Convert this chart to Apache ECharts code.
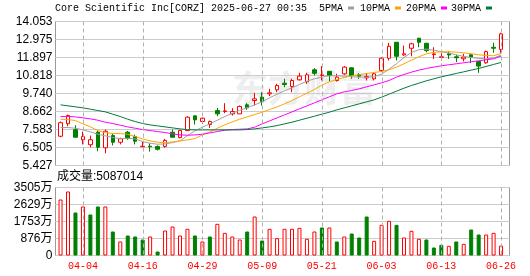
<!DOCTYPE html>
<html>
<head>
<meta charset="utf-8">
<script src="https://cdn.jsdelivr.net/npm/echarts@6/dist/echarts.min.js"></script>
<style>
html,body{margin:0;padding:0;background:#fff;}
#chart{width:530px;height:276px;}
</style>
</head>
<body>
<div id="chart"></div>
<script>
const titleText = 'Core Scientific Inc[CORZ] 2025-06-27 00:35';
const volumeLabel = '成交量';
const categories = ['04-01','04-02','04-03','04-04','04-07','04-08','04-09','04-10','04-11','04-14','04-15','04-16','04-17','04-21','04-22','04-23','04-24','04-25','04-28','04-29','04-30','05-01','05-02','05-05','05-06','05-07','05-08','05-09','05-12','05-13','05-14','05-15','05-16','05-19','05-20','05-21','05-22','05-23','05-27','05-28','05-29','05-30','06-02','06-03','06-04','06-05','06-06','06-09','06-10','06-11','06-12','06-13','06-16','06-17','06-18','06-20','06-23','06-24','06-25','06-26'];
const opens  = [7.18,7.93,7.57,6.97,6.67,7.42,6.49,7.22,6.82,7.42,7.16,6.55,6.58,6.57,6.57,7.42,7.10,7.52,8.40,8.06,7.88,8.72,8.66,8.52,8.52,9.06,9.32,9.52,9.72,9.96,10.36,10.16,10.56,10.44,11.16,10.82,11.07,10.52,10.92,11.28,10.86,10.68,10.62,11.12,11.85,12.81,12.05,12.45,13.05,12.75,12.07,11.90,12.12,11.94,11.82,12.06,11.66,11.58,12.51,12.38];
const closes = [7.99,8.42,7.12,7.16,6.97,6.52,7.48,6.82,7.03,7.06,6.88,6.58,6.55,6.40,6.93,7.12,7.52,8.32,8.16,8.26,8.06,8.52,8.70,8.66,8.96,8.88,9.42,9.26,9.78,10.22,10.28,10.52,10.78,10.86,10.95,10.86,10.82,10.72,11.32,10.82,10.78,10.76,10.92,11.85,12.57,11.97,12.12,12.72,12.81,12.31,12.11,11.94,12.05,11.88,11.92,11.92,11.38,12.25,12.45,13.31];
const lows   = [7.12,7.78,7.12,6.69,6.51,6.28,6.16,6.63,6.69,6.97,6.69,6.54,6.26,6.33,6.49,7.12,7.05,7.49,7.88,7.92,7.68,8.38,8.56,8.42,8.52,8.76,9.02,9.02,9.58,9.82,10.12,9.82,10.52,10.32,10.82,10.52,10.48,10.46,10.86,10.62,10.62,10.52,10.52,11.02,11.72,11.72,12.00,11.97,12.51,12.21,11.81,11.72,11.81,11.62,11.66,11.56,10.98,11.52,12.18,12.18];
const highs  = [8.06,8.48,7.84,7.46,7.22,7.52,7.58,7.33,7.09,7.50,7.27,6.85,6.76,6.63,7.03,7.58,7.56,8.38,8.42,8.30,8.12,8.88,9.16,8.86,9.02,9.16,9.78,9.82,10.02,10.32,10.62,10.62,10.98,10.98,11.26,11.38,11.08,10.92,11.38,11.30,10.96,10.96,11.02,11.91,12.78,12.83,12.61,12.78,13.07,12.77,12.51,12.18,12.26,12.06,12.12,12.12,11.68,12.31,12.78,13.38];
const ma5  = [7.70,7.70,7.66,7.56,7.44,7.30,7.20,7.10,7.04,7.06,7.02,6.86,6.76,6.70,6.72,6.80,6.90,7.22,7.50,7.72,7.92,8.14,8.36,8.56,8.72,8.90,9.06,9.24,9.48,9.70,9.90,10.08,10.28,10.48,10.62,10.72,10.80,10.80,10.78,10.74,10.72,10.72,10.74,10.90,11.20,11.52,11.90,12.20,12.36,12.40,12.34,12.24,12.16,12.06,11.96,11.90,11.84,11.82,11.86,12.04];
const ma10 = [8.20,8.18,8.12,7.92,7.74,7.52,7.40,7.34,7.34,7.30,7.16,7.02,6.90,6.82,6.80,6.84,6.90,6.96,7.04,7.26,7.44,7.66,7.86,8.04,8.20,8.34,8.48,8.62,8.78,8.94,9.12,9.32,9.54,9.76,9.98,10.24,10.44,10.58,10.70,10.80,10.86,10.94,11.00,11.06,11.16,11.32,11.52,11.74,11.94,12.12,12.20,12.24,12.24,12.22,12.18,12.12,12.06,12.02,12.00,12.14];
const ma20 = [8.36,8.36,8.34,8.28,8.22,8.14,8.02,7.94,7.84,7.74,7.66,7.58,7.52,7.46,7.40,7.32,7.26,7.24,7.26,7.30,7.38,7.46,7.54,7.58,7.60,7.62,7.72,7.92,8.10,8.28,8.46,8.64,8.82,9.00,9.18,9.36,9.54,9.72,9.84,9.92,10.02,10.14,10.26,10.38,10.52,10.72,10.88,11.02,11.14,11.24,11.32,11.40,11.46,11.52,11.58,11.64,11.70,11.76,11.82,11.98];
const ma30 = [9.06,9.00,8.94,8.88,8.80,8.72,8.64,8.50,8.36,8.20,8.06,7.94,7.86,7.80,7.74,7.68,7.62,7.58,7.56,7.56,7.56,7.56,7.56,7.56,7.56,7.58,7.62,7.68,7.74,7.82,7.92,8.02,8.14,8.26,8.38,8.50,8.62,8.76,8.88,9.00,9.12,9.24,9.36,9.52,9.70,9.88,10.06,10.22,10.36,10.50,10.62,10.74,10.84,10.94,11.04,11.14,11.24,11.36,11.48,11.60];
const volumes = [28860000,32990000,22160000,25260000,21130000,25260000,25260000,12370000,7220000,10310000,9790000,8250000,9790000,2060000,12890000,14950000,10310000,13750000,10310000,7220000,9790000,16320000,11680000,9790000,8250000,12370000,20100000,7730000,13750000,8930000,13750000,13750000,14260000,8600000,12370000,14430000,14430000,7220000,9790000,11340000,9280000,20100000,7560000,15810000,17870000,15810000,9280000,12720000,8600000,8250000,4120000,5500000,4980000,7220000,6010000,13400000,10820000,10820000,11680000,5087014];
const volumeDir = [1,1,-1,1,-1,-1,1,-1,1,-1,-1,-1,1,-1,1,1,1,1,-1,1,-1,1,1,1,1,-1,1,-1,1,1,1,1,1,1,1,-1,1,-1,1,-1,-1,-1,1,1,1,-1,1,1,1,-1,-1,-1,1,-1,1,-1,-1,1,1,1];
const priceTickLabels = ['5.427','6.505','7.583','8.662','9.740','10.818','11.897','12.975','14.053'];
const volumeTickLabels = ['0','876万','1753万','2629万','3505万'];
const maNames = ['5PMA','10PMA','20PMA','30PMA'];
const watermark = '东方财富';

const priceMin = 5.427, priceMax = 14.053, priceStep = (priceMax - priceMin) / 8;
const volMax = 35050000, volStep = volMax / 4;
const RED = '#ff0000', GREEN = '#008000';
const maColors = ['#a0a0a0', '#ffa500', '#ff00ff', '#007a3d'];
const labelEvery = (i) => i % 8 === 3;
const monoFont = 'Liberation Mono';
const sansFont = 'Liberation Sans, Noto Sans CJK SC';

const frameLeft = 55.5, frameWidth = 454, plotLeft = 56.8, plotWidth = 448;
const mainTop = 21.5, mainHeight = 144, volTop = 187.5, volHeight = 68;

const candleData = opens.map((o, i) => [o, closes[i], lows[i], highs[i]]);
const volData = volumes.map((v, i) => ({
  value: v,
  itemStyle: volumeDir[i] > 0
    ? { color: '#ffffff', borderColor: RED, borderWidth: 1 }
    : { color: GREEN, borderColor: GREEN, borderWidth: 1 }
}));
const maData = [ma5, ma10, ma20, ma30];
const markedIdx = categories.map((c, i) => i).filter(labelEvery);

// dashed vertical guide at a labelled date; x comes from the category axis
function dashedGuide(params, api) {
  const x = Math.round(api.coord([api.value(0), api.value(1)])[0]) + 0.5;
  const cs = params.coordSys;
  return {
    type: 'line',
    shape: { x1: x, y1: cs.y, x2: x, y2: cs.y + cs.height },
    style: { stroke: '#b0b0b0', lineWidth: 1, lineDash: [4, 3] }
  };
}

const chart = echarts.init(document.getElementById('chart'), null, { renderer: 'canvas' });

const option = {
  animation: false,
  backgroundColor: '#ffffff',
  title: [
    { text: titleText, left: 55, top: 3, padding: 0,
      textStyle: { fontFamily: monoFont, fontSize: 10, fontWeight: 'normal', color: '#000' } },
    { text: volumeLabel + ':' + volumes[volumes.length - 1], left: 57, top: 171, padding: 0,
      textStyle: { fontFamily: sansFont, fontSize: 12, fontWeight: 'normal', color: '#000' } }
  ],
  legend: maNames.map((n, k) => ({
    data: [n], left: [319, 360, 406, 451][k], top: 3, padding: 0,
    icon: 'rect', itemWidth: 6, itemHeight: 3, align: 'right', selectedMode: false,
    textStyle: { fontFamily: monoFont, fontSize: 10, color: '#000' }
  })),
  graphic: [{
    type: 'text', left: 232, top: 70, z: -10, silent: true,
    style: { text: watermark, font: 'bold 36px "Noto Sans CJK SC"', fill: '#eeeeee' }
  }],
  grid: [
    { left: frameLeft, top: mainTop, width: frameWidth, height: mainHeight, show: true, borderColor: '#999', borderWidth: 1, backgroundColor: 'rgba(0,0,0,0)', outerBoundsMode: 'none' },
    { left: plotLeft, top: mainTop, width: plotWidth, height: mainHeight, outerBoundsMode: 'none' },
    { left: frameLeft, top: volTop, width: frameWidth, height: volHeight, show: true, borderColor: '#999', borderWidth: 1, backgroundColor: 'rgba(0,0,0,0)', outerBoundsMode: 'none' },
    { left: plotLeft, top: volTop, width: plotWidth, height: volHeight, outerBoundsMode: 'none' }
  ],
  xAxis: [
    { gridIndex: 0, type: 'value', min: 0, max: 1, show: false },
    { gridIndex: 1, type: 'category', data: categories, boundaryGap: true,
      axisLine: { show: false }, axisTick: { show: false }, axisLabel: { show: false }, splitLine: { show: false } },
    { gridIndex: 2, type: 'value', min: 0, max: 1, show: false },
    { gridIndex: 3, type: 'category', data: categories, boundaryGap: true,
      axisLine: { show: false }, axisTick: { show: false },
      axisLabel: { show: true, interval: labelEvery, color: RED, fontFamily: monoFont, fontSize: 10, margin: 6 },
      splitLine: { show: false } }
  ],
  yAxis: [
    { gridIndex: 0, type: 'value', min: priceMin, max: priceMax, interval: priceStep,
      axisLine: { show: false }, axisTick: { show: false },
      axisLabel: { color: '#000', fontFamily: sansFont, fontSize: 12, margin: 3,
        formatter: (v) => priceTickLabels[Math.round((v - priceMin) / priceStep)] },
      splitLine: { show: true, lineStyle: { color: '#cccccc', width: 1 } } },
    { gridIndex: 1, type: 'value', min: priceMin, max: priceMax, show: false, splitLine: { show: false } },
    { gridIndex: 2, type: 'value', min: 0, max: volMax, interval: volStep,
      axisLine: { show: false }, axisTick: { show: false },
      axisLabel: { color: '#000', fontFamily: sansFont, fontSize: 12, margin: 3,
        formatter: (v) => volumeTickLabels[Math.round(v / volStep)] },
      splitLine: { show: true, lineStyle: { color: '#cccccc', width: 1 } } },
    { gridIndex: 3, type: 'value', min: 0, max: volMax, show: false, splitLine: { show: false } }
  ],
  series: [
    { type: 'candlestick', name: 'K', xAxisIndex: 1, yAxisIndex: 1, data: candleData, barWidth: 4, z: 2,
      itemStyle: { color: '#ffffff', color0: GREEN, borderColor: RED, borderColor0: GREEN, borderWidth: 1 } },
    ...maNames.map((n, k) => ({
      type: 'line', name: n, xAxisIndex: 1, yAxisIndex: 1, data: maData[k],
      showSymbol: false, symbol: 'none', smooth: false, color: maColors[k],
      lineStyle: { width: 1, color: maColors[k] }, z: 3
    })),
    { type: 'bar', name: volumeLabel, xAxisIndex: 3, yAxisIndex: 3, data: volData, barWidth: 4, z: 2 },
    { type: 'custom', name: 'guides-main', xAxisIndex: 1, yAxisIndex: 1, z: 5, clip: false,
      data: markedIdx.map((i) => [i, priceMin]), renderItem: dashedGuide },
    { type: 'custom', name: 'guides-vol', xAxisIndex: 3, yAxisIndex: 3, z: 5, clip: false,
      data: markedIdx.map((i) => [i, 0]), renderItem: dashedGuide }
  ]
};
chart.setOption(option);
</script>
</body>
</html>
